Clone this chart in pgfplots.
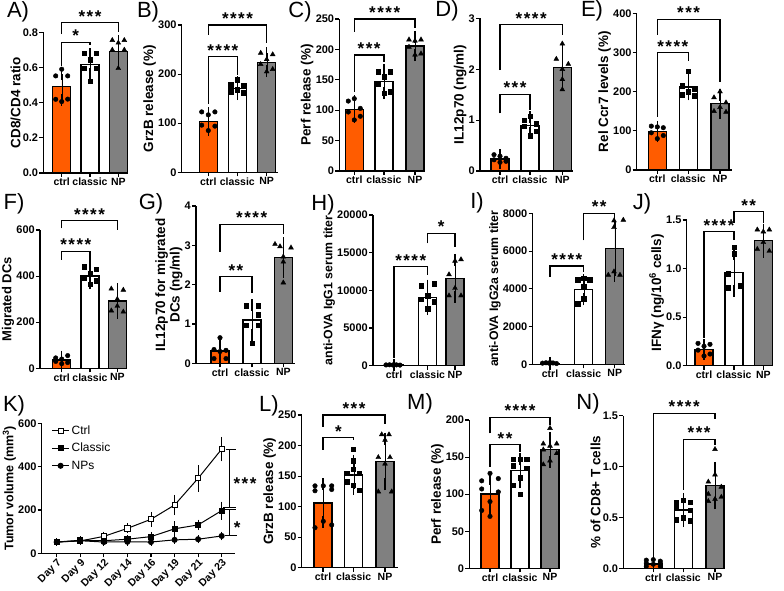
\documentclass[border=0pt]{standalone}
\usepackage{fontspec}
\setmainfont{Liberation Sans}
\usepackage{pgfplots}
\pgfplotsset{compat=1.18}
\definecolor{orng}{RGB}{255,92,0}
\definecolor{gry}{RGB}{128,128,128}
\newcommand{\Sone}{*}
\newcommand{\Stwo}{*\kern1.5pt*}
\newcommand{\Sthree}{*\kern1.5pt*\kern1.5pt*}
\newcommand{\Sfour}{*\kern1.5pt*\kern1.5pt*\kern1.5pt*}
\tikzset{sig/.style={font=\fontsize{17}{17}\selectfont\bfseries, inner sep=0pt, yshift=6.3pt},
 plab/.style={font=\fontsize{22}{22}\selectfont, inner sep=0pt}}
\pgfplotsset{
 bp/.style={scale only axis, anchor=south west, clip=false,
  axis x line*=bottom, axis y line*=left,
  axis line style={line width=1.3pt, -},
  tick style={line width=1.1pt, black},
  tick align=outside, major tick length=4pt,
  xmin=0, ymin=0, scaled y ticks=false,
  xticklabels={ctrl,classic,NP},
  x tick label style={font=\fontsize{10.5}{10.5}\selectfont\bfseries, inner sep=1pt},
  y tick label style={font=\fontsize{11}{11}\selectfont\bfseries, inner sep=1pt},
  ylabel style={font=\fontsize{13.5}{14.5}\selectfont\bfseries, align=center, inner sep=1pt},
 },
 barO/.style={ybar, bar width=18pt, bar shift=0pt, draw=black, line width=1.3pt,
  error bars/y dir=both, error bars/y explicit,
  error bars/error mark options={mark size=6pt, line width=1.2pt, black}},
 pc/.style={only marks, mark=*, mark size=2.3pt, black},
 ps/.style={only marks, mark=square*, mark size=2.3pt, black},
 pt/.style={only marks, mark=triangle*, mark size=2.8pt, black},
}
\newcommand{\bars}[9]{%
 \addplot[barO, fill=orng] coordinates {(#1,#2) +- (0,#3)};
 \addplot[barO, fill=white] coordinates {(#4,#5) +- (0,#6)};
 \addplot[barO, fill=gry] coordinates {(#7,#8) +- (0,#9)};}
\newcommand{\brk}[7]{%
 \draw[line width=1.1pt] (axis cs:#1,#4) -- (axis cs:#1,#3) -- (axis cs:#2,#3) -- (axis cs:#2,#5);
 \node[sig] at (axis cs:#6,#3) {#7};}
\begin{document}
\begin{tikzpicture}
\path[use as bounding box] (0pt,0pt) rectangle (784pt,591pt);
% ---------- A
\begin{axis}[bp, at={(43.3pt,418pt)}, width=85pt, height=140.7pt, xmax=85, ymax=0.8,
 xtick={18.4,46.7,75}, ytick={0,0.2,0.4,0.6,0.8}, yticklabels={0.0,0.2,0.4,0.6,0.8}, ylabel={CD8/CD4 ratio}]
\bars{18.4}{0.49}{0.075}{46.7}{0.618}{0.057}{75}{0.69}{0.06}
\addplot[pc] coordinates {(18.4,0.59)(12.4,0.552)(24.4,0.552)(12.4,0.419)(18.4,0.406)(24.4,0.42)};
\addplot[ps] coordinates {(40.7,0.68)(52.7,0.68)(46.7,0.645)(40.7,0.595)(52.7,0.595)(46.7,0.523)};
\addplot[pt] coordinates {(69,0.755)(81,0.755)(75,0.74)(69,0.70)(81,0.70)(75,0.595)};
\brk{18.4}{46.7}{0.743}{0.61}{0.725}{32.5}{\Sone}
\brk{18.4}{75}{0.855}{0.79}{0.80}{46.7}{\Sthree}
\end{axis}
% ---------- B
\begin{axis}[bp, at={(181.7pt,418.7pt)}, width=96.6pt, height=147.3pt, xmax=96.6, ymax=300,
 xtick={26.6,55.6,85}, ytick={0,100,200,300}, yticklabels={0,100,200,300}, ylabel={GrzB release (\%)}]
\bars{26.6}{103}{17}{55.6}{171}{12}{85}{224}{18}
\addplot[pc] coordinates {(20,123)(33.2,123)(26.6,117)(20,96)(33.2,94)(26.6,85)};
\addplot[ps] coordinates {(55.6,188)(49,178)(62.2,176)(55.6,168)(49,164)(62.2,162)};
\addplot[pt] coordinates {(79,243)(91,240)(85,230)(79,220)(91,210)(85,205)};
\brk{26.6}{55.6}{235.6}{140}{198}{41.1}{\Sfour}
\brk{26.6}{85}{300}{280}{264}{55.8}{\Sfour}
\end{axis}
% ---------- C
\begin{axis}[bp, at={(339.3pt,420pt)}, width=85.7pt, height=152pt, xmax=85.7, ymax=250,
 xtick={15,44.7,75.7}, ytick={0,50,100,150,200,250}, yticklabels={0,50,100,150,200,250}, ylabel={Perf release (\%)}]
\bars{15}{101.4}{13}{44.7}{147}{19}{75.7}{205.6}{15}
\addplot[pc] coordinates {(15,119)(9,115)(21,103)(9,97)(21,90)(15,84)};
\addplot[ps] coordinates {(38.7,163)(50.7,163)(44.7,155)(38.7,143)(50.7,130)(44.7,128)};
\addplot[pt] coordinates {(69.7,216)(81.7,216)(75.7,214)(69.7,204)(81.7,193)(75.7,191)};
\brk{15}{44.7}{190.8}{130}{180}{29.85}{\Sthree}
\brk{15}{75.7}{250}{229}{235}{45.35}{\Sfour}
\end{axis}
% ---------- D
\begin{axis}[bp, at={(480pt,420pt)}, width=93.3pt, height=152.7pt, xmax=93.3, ymax=3,
 xtick={20,50,82.3}, ytick={0,1,2,3}, yticklabels={0,1,2,3}, ylabel={IL12p70 (ng/ml)}]
\bars{20}{0.236}{0.07}{50}{0.90}{0.155}{82.3}{2.03}{0.32}
\addplot[pc] coordinates {(14,0.32)(20,0.29)(26,0.25)(14,0.22)(26,0.19)(20,0.17)};
\addplot[ps] coordinates {(50,1.08)(44,1.0)(56,0.93)(44,0.88)(56,0.78)(50,0.69)};
\addplot[pt] coordinates {(82.3,2.5)(76.3,2.2)(88.3,2.1)(82.3,2.0)(82.3,1.8)(82.3,1.6)};
\brk{20}{50}{1.51}{1.13}{1.2}{35}{\Sthree}
\brk{20}{82.3}{2.87}{1.98}{2.67}{51.15}{\Sfour}
\end{axis}
% ---------- E
\begin{axis}[bp, at={(636.7pt,421pt)}, width=95pt, height=156.7pt, xmax=95, ymax=400,
 xtick={20.6,51.6,83.3}, ytick={0,100,200,300,400}, yticklabels={0,100,200,300,400}, ylabel={Rel Ccr7 levels (\%)}]
\bars{20.6}{98}{12}{51.6}{212}{19}{83.3}{169}{23}
\addplot[pc] coordinates {(14.6,112)(20.6,110)(26.6,108)(14.6,95)(26.6,88)(20.6,80)};
\addplot[ps] coordinates {(51.6,252)(45.6,215)(57.6,208)(51.6,200)(45.6,192)(57.6,190)};
\addplot[pt] coordinates {(83.3,200)(77.3,185)(89.3,172)(83.3,160)(77.3,150)(89.3,148)};
\brk{20.6}{51.6}{300}{136}{277}{36.1}{\Sfour}
\brk{20.6}{83.3}{385}{345}{225}{51.95}{\Sthree}
\end{axis}
% ---------- F
\begin{axis}[bp, at={(40pt,222.7pt)}, width=86.7pt, height=138.3pt, xmax=86.7, ymax=600,
 xtick={21.7,50,77.3}, ytick={0,200,400,600}, yticklabels={0,200,400,600}, ylabel={Migrated DCs},
 ylabel style={font=\fontsize{13}{14}\selectfont\bfseries}]
\bars{21.7}{36}{15}{50}{400}{32}{77.3}{292}{50}
\addplot[pc] coordinates {(27.7,55)(15.7,45)(21.7,40)(15.7,30)(27.7,25)(21.7,20)};
\addplot[ps] coordinates {(44,440)(56,430)(50,410)(44,390)(56,380)(50,365)};
\addplot[pt] coordinates {(71.3,345)(83.3,340)(77.3,300)(77.3,270)(71.3,250)(83.3,245)};
\brk{21.7}{50}{508}{470}{455}{35.85}{\Sfour}
\brk{21.7}{77.3}{640}{607}{600}{49.5}{\Sfour}
\end{axis}
% ---------- G
\begin{axis}[bp, at={(196pt,227.7pt)}, width=99pt, height=157.3pt, xmax=99, ymax=4,
 xtick={24,56,87.3}, ytick={0,1,2,3,4}, yticklabels={0,1,2,3,4}, ylabel={IL12p70 for migrated\\DCs (ng/ml)}]
\bars{24}{0.31}{0.21}{56}{1.1}{0.38}{87.3}{2.69}{0.36}
\addplot[pc] coordinates {(24,0.65)(18,0.35)(30,0.33)(18,0.12)(30,0.12)(24,0.3)};
\addplot[ps] coordinates {(50,1.46)(62,1.46)(62,1.23)(50,0.97)(62,0.97)(56,0.51)};
\addplot[pt] coordinates {(79,3.03)(84,2.97)(95,2.94)(87.3,2.71)(87.3,2.58)(87.3,2.05)};
\brk{24}{56}{2.2}{1.82}{1.78}{40}{\Stwo}
\brk{24}{87.3}{3.54}{2.84}{3.3}{55.65}{\Sfour}
\end{axis}
% ---------- H
\begin{axis}[bp, at={(373pt,225.3pt)}, width=92pt, height=150.7pt, xmax=92, ymax=20000,
 xtick={21,54.5,82}, ytick={0,5000,10000,15000,20000}, yticklabels={0,5000,10000,15000,20000}, ylabel={anti-OVA IgG1 serum titer},
 ylabel style={font=\fontsize{12.3}{13}\selectfont\bfseries, yshift=0pt}]
\bars{21}{100}{50}{54.5}{9071}{1550}{82}{11593}{2450}
\addplot[pc] coordinates {(13,100)(16.5,120)(20,90)(23.5,110)(27,80)(21,130)};
\addplot[ps] coordinates {(61,10900)(48,10600)(54.5,9300)(48,8800)(61,8500)(54.5,7600)};
\addplot[pt] coordinates {(88,14100)(82,13900)(76,12100)(82,10300)(76,9300)(88,9300)};
\brk{21}{54.5}{13142}{1000}{12035}{37.75}{\Sfour}
\brk{54.5}{82}{17566}{16239}{15796}{68.25}{\Sone}
\end{axis}
% ---------- I
\begin{axis}[bp, at={(532.5pt,226.7pt)}, width=92.5pt, height=151pt, xmax=92.5, ymax=8000,
 xtick={17.5,51.2,82.2}, ytick={0,2000,4000,6000,8000}, yticklabels={0,2000,4000,6000,8000}, ylabel={anti-OVA IgG2a serum titer},
 ylabel style={font=\fontsize{12.3}{13}\selectfont\bfseries}]
\bars{17.5}{60}{20}{51.2}{3950}{510}{82.2}{6150}{1450}
\addplot[pc] coordinates {(10,60)(13.5,80)(17,50)(20.5,70)(24,40)(17.5,90)};
\addplot[ps] coordinates {(45,4470)(51.2,4560)(57,4470)(51.2,4100)(51.2,3460)(45,3200)};
\addplot[pt] coordinates {(81.5,7611)(90.8,7647)(81.5,7258)(75.8,4733)(81.5,4910)(87.5,4733)};
\brk{17.5}{51.2}{5210}{4645}{4910}{34.35}{\Sfour}
\brk{51.2}{82.2}{8000}{6570}{7735}{66.7}{\Stwo}
\end{axis}
% ---------- J
\begin{axis}[bp, at={(686.7pt,225.3pt)}, width=86.6pt, height=145.7pt, xmax=86.6, ymax=1.5,
 xtick={17.3,47.3,76.6}, ytick={0,0.5,1,1.5}, yticklabels={0.0,0.5,1.0,1.5}, ylabel={IFNγ (ng/10\textsuperscript{6} cells)}]
\bars{17.3}{0.168}{0.045}{47.3}{0.961}{0.19}{76.6}{1.287}{0.115}
\addplot[pc] coordinates {(11.3,0.23)(23.3,0.22)(17.3,0.2)(11.3,0.16)(23.3,0.12)(17.3,0.1)};
\addplot[ps] coordinates {(47.3,1.22)(47.3,1.15)(41.3,0.95)(53.3,0.83)(41.3,0.8)(53.3,0.82)};
\addplot[pt] coordinates {(70.6,1.4)(82.6,1.4)(76.6,1.38)(76.6,1.27)(70.6,1.2)(82.6,1.18)};
\brk{17.3}{47.3}{1.38}{0.29}{1.29}{32.3}{\Sfour}
\brk{47.3}{76.6}{1.585}{1.47}{1.47}{61.95}{\Stwo}
\end{axis}
% ---------- K
\begin{axis}[bp, at={(41.7pt,37.7pt)}, width=193.3pt, height=130pt, xmax=193.3, ymax=600,
 xtick={15,38.6,62.1,85.7,109.3,132.9,156.4,180},
 xticklabels={Day 7,Day 9,Day 12,Day 14,Day 16,Day 19,Day 21,Day 23},
 x tick label style={rotate=45, anchor=north east, font=\fontsize{10.5}{10.5}\selectfont\bfseries, inner sep=0.5pt},
 ytick={0,200,400,600}, yticklabels={0,200,400,600},
 ylabel={Tumor volume (mm\textsuperscript{3})},
 ylabel style={font=\fontsize{12.5}{13}\selectfont\bfseries},
 legend style={draw=none, fill=none, at={(0.05,1.0)}, anchor=north west,
   font=\fontsize{12}{12}\selectfont, row sep=3.5pt, inner sep=0pt},
 legend cell align=left]
\addplot[black, line width=1pt, mark=square*, mark options={fill=white, line width=0.9pt}, mark size=2.6pt,
 error bars/y dir=both, error bars/y explicit, error bars/error mark options={mark size=3pt, line width=0.7pt}, error bars/error bar style={line width=0.7pt}]
 coordinates {(15,52)+-(0,4) (38.6,57)+-(0,5) (62.1,78)+-(0,8) (85.7,115)+-(0,9) (109.3,157)+-(0,20) (132.9,223)+-(0,33) (156.4,346)+-(0,47) (180,481)+-(0,43)};
\addlegendentry{Ctrl}
\addplot[black, line width=1pt, mark=square*, mark size=2.6pt,
 error bars/y dir=both, error bars/y explicit, error bars/error mark options={mark size=3pt, line width=0.7pt}, error bars/error bar style={line width=0.7pt}]
 coordinates {(15,52)+-(0,3) (38.6,60)+-(0,5) (62.1,58)+-(0,5) (85.7,65)+-(0,6) (109.3,77)+-(0,8) (132.9,113)+-(0,20) (156.4,131)+-(0,10) (180,197)+-(0,28)};
\addlegendentry{Classic}
\addplot[black, line width=1pt, mark=*, mark size=2.5pt,
 error bars/y dir=both, error bars/y explicit, error bars/error mark options={mark size=3pt, line width=0.7pt}, error bars/error bar style={line width=0.7pt}]
 coordinates {(15,52)+-(0,3) (38.6,58)+-(0,4) (62.1,52)+-(0,4) (85.7,53)+-(0,4) (109.3,52)+-(0,4) (132.9,62)+-(0,4) (156.4,65)+-(0,5) (180,80)+-(0,6)};
\addlegendentry{NPs}
\draw[line width=1pt] (axis cs:184,481) -- (axis cs:194,481);
\draw[line width=1pt] (axis cs:187.3,481) -- (axis cs:187.3,212);
\draw[line width=1pt] (axis cs:181.6,212) -- (axis cs:194.3,212);
\draw[line width=1pt] (axis cs:181.6,203) -- (axis cs:194.3,203);
\draw[line width=1pt] (axis cs:187.3,203) -- (axis cs:187.3,80);
\draw[line width=1pt] (axis cs:183,80) -- (axis cs:195,80);
\node[font=\fontsize{17}{17}\selectfont\bfseries, inner sep=0pt, yshift=-3.7pt] at (axis cs:203.3,338) {\Sthree};
\node[font=\fontsize{17}{17}\selectfont\bfseries, inner sep=0pt, yshift=-3.7pt] at (axis cs:195.6,134) {\Sone};
\end{axis}
% ---------- L
\begin{axis}[bp, at={(301.7pt,23.3pt)}, width=96.3pt, height=152.7pt, xmax=96.3, ymax=250,
 xtick={21.3,52,83.3}, ytick={0,50,100,150,200,250}, yticklabels={0,50,100,150,200,250}, ylabel={GrzB release (\%)}]
\bars{21.3}{106}{30.5}{52}{152}{23}{83.3}{174}{37.5}
\addplot[pc] coordinates {(13.3,134)(21.6,134)(30,134)(13.3,126)(30,128)(21.6,76)(13.3,65.5)(30,70)};
\addplot[ps] coordinates {(51.6,194)(51.6,175)(51.6,161)(45,154.5)(57.6,154.5)(45,141)(51.6,135)(57.6,127)};
\addplot[pt] coordinates {(80,218)(87.3,218)(83.3,209)(76.6,180.7)(88.3,180.7)(83.3,170)(76.6,124.5)(90,124.5)};
\brk{21.3}{52}{213}{193}{209}{36.65}{\Sone}
\brk{21.3}{83.3}{250}{231}{236}{52.3}{\Sthree}
\end{axis}
% ---------- M
\begin{axis}[bp, at={(469.3pt,22.7pt)}, width=90.7pt, height=148.3pt, xmax=90.7, ymax=200,
 xtick={20.7,50.7,80.7}, ytick={0,50,100,150,200}, yticklabels={0,50,100,150,200}, ylabel={Perf release (\%)}]
\bars{20.7}{100}{20.5}{50.7}{132}{16}{80.7}{160}{16}
\addplot[pc] coordinates {(20.7,128)(12.4,118)(29,121)(12.4,107)(29,103)(20.7,90)(12.4,78)(20.7,70)};
\addplot[ps] coordinates {(44,147)(50.7,147)(57.4,147)(44,138)(57.4,135)(50.7,122)(44,112)(50.7,100)};
\addplot[pt] coordinates {(80.7,189)(74,168)(87.4,168)(80.7,165)(74,160)(87.4,155)(80.7,145)(74,140)};
\brk{20.7}{50.7}{167}{137}{157}{35.7}{\Stwo}
\brk{20.7}{80.7}{203.6}{182}{193}{50.7}{\Sfour}
\end{axis}
% ---------- N
\begin{axis}[bp, at={(623.3pt,22.7pt)}, width=101.7pt, height=152.6pt, xmax=101.7, ymax=1.5,
 xtick={30,60,91.7}, ytick={0,0.5,1,1.5}, yticklabels={0.0,0.5,1.0,1.5}, ylabel={\% of CD8+ T cells}]
\bars{30}{0.043}{0.02}{60}{0.573}{0.11}{91.7}{0.812}{0.175}
\addplot[pc] coordinates {(23,0.08)(30,0.085)(37,0.07)(23,0.05)(37,0.05)(30,0.04)(23,0.02)(37,0.02)};
\addplot[ps] coordinates {(60,0.67)(53,0.65)(67,0.65)(53,0.6)(67,0.57)(60,0.5)(53,0.48)(67,0.47)};
\addplot[pt] coordinates {(91.7,1.17)(91.7,0.92)(85,0.85)(98,0.8)(85,0.73)(98,0.7)(91.7,0.68)(85,0.66)};
\brk{30}{91.7}{1.523}{0.098}{1.47}{60.85}{\Sfour}
\brk{60}{91.7}{1.268}{0.77}{1.21}{75.85}{\Sthree}
\end{axis}
% ---------- panel letters
\node[plab] at (18pt,579pt) {A)};
\node[plab] at (148pt,579pt) {B)};
\node[plab] at (300pt,579pt) {C)};
\node[plab] at (447pt,580pt) {D)};
\node[plab] at (592pt,580pt) {E)};
\node[plab] at (14pt,387pt) {F)};
\node[plab] at (151pt,387pt) {G)};
\node[plab] at (323pt,386pt) {H)};
\node[plab] at (477pt,388pt) {I)};
\node[plab] at (642pt,387pt) {J)};
\node[plab] at (14pt,185pt) {K)};
\node[plab] at (269pt,185pt) {L)};
\node[plab] at (420pt,187pt) {M)};
\node[plab] at (588pt,187pt) {N)};
\end{tikzpicture}
\end{document}
